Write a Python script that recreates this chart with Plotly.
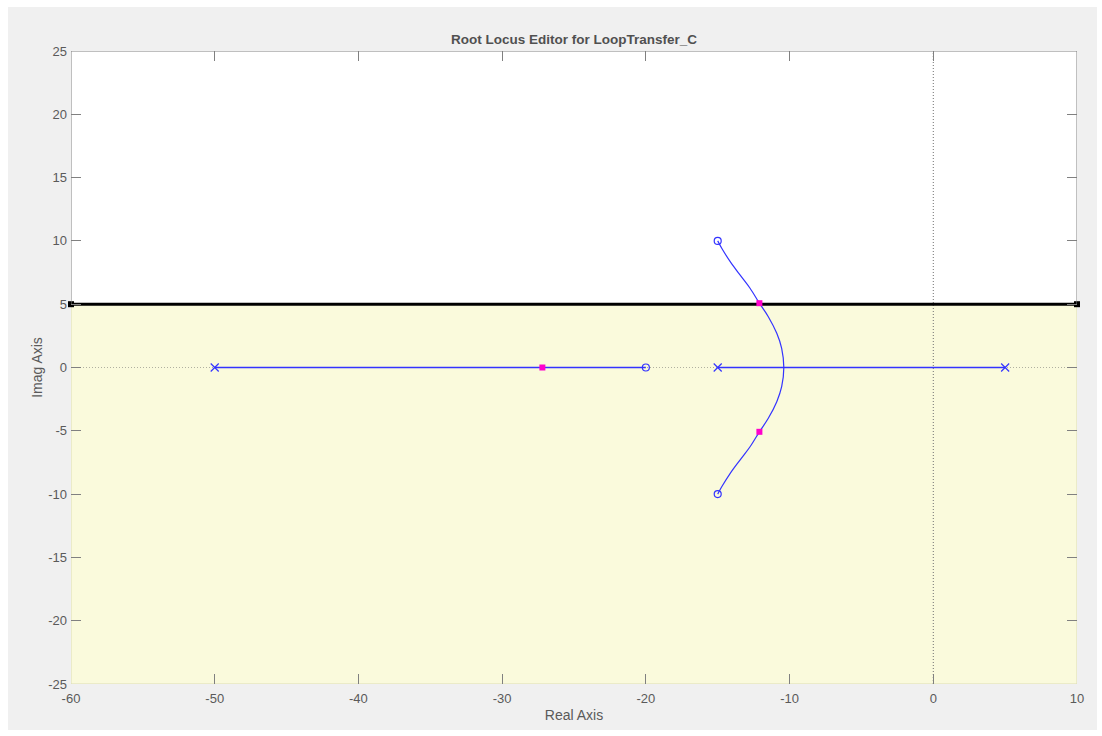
import plotly.graph_objects as go

# ---------------- data ----------------
pole_re = [-50, -15, 5]
pole_im = [0, 0, 0]
zero_re = [-20, -15, -15]
zero_im = [0, 10, -10]

real_seg1_re = [-50, -20]
real_seg2_re = [-15, 5]

branch_re = [-15.0, -14.72, -14.13, -13.45, -12.75, -12.10, -11.48, -10.89, -10.55, -10.40,
             -10.55, -10.89, -11.48, -12.10, -12.75, -13.45, -14.13, -14.72, -15.0]
branch_im = [10.0, 9.42, 8.36, 7.31, 6.26, 5.08, 4.01, 2.70, 1.52, 0.0,
             -1.52, -2.70, -4.01, -5.08, -6.26, -7.31, -8.36, -9.42, -10.0]

cl_re = [-27.2, -12.1, -12.1]
cl_im = [0, 5.08, -5.08]

limit_re = [-60, 10]
limit_im = [5, 5]

x_ticks = [-60, -50, -40, -30, -20, -10, 0, 10]
y_ticks = [-25, -20, -15, -10, -5, 0, 5, 10, 15, 20, 25]

XMIN, XMAX, YMIN, YMAX = -60, 10, -25, 25

BLUE = "#3333ff"
MAG = "#ff00cc"
GRAY = "#808080"
TXT = "#5a5a5a"
FONT = "Liberation Sans, Arial, sans-serif"

fig = go.Figure()

# dotted axes through origin
fig.add_trace(go.Scatter(x=[XMIN, XMAX], y=[0, 0], mode="lines",
                         line=dict(color="#b0b0a0", width=1, dash="1px,2px"),
                         hoverinfo="skip", showlegend=False))
fig.add_trace(go.Scatter(x=[0, 0], y=[YMIN, YMAX], mode="lines",
                         line=dict(color="#707070", width=1, dash="1px,2px"),
                         hoverinfo="skip", showlegend=False))

# root locus branches
for seg in (real_seg1_re, real_seg2_re):
    fig.add_trace(go.Scatter(x=seg, y=[0, 0], mode="lines",
                             line=dict(color=BLUE, width=1.5), showlegend=False))
fig.add_trace(go.Scatter(x=branch_re, y=branch_im, mode="lines",
                         line=dict(color=BLUE, width=1.2, shape="spline", smoothing=1.0),
                         showlegend=False))

# limit line
fig.add_trace(go.Scatter(x=limit_re, y=limit_im, mode="lines+markers",
                         line=dict(color="black", width=3),
                         marker=dict(symbol="square", size=6, color="black"),
                         cliponaxis=False, showlegend=False))

# poles and zeros
fig.add_trace(go.Scatter(x=pole_re, y=pole_im, mode="markers",
                         marker=dict(symbol="x-thin-open", size=8, color=BLUE,
                                     line=dict(color=BLUE, width=1.2)),
                         showlegend=False))
fig.add_trace(go.Scatter(x=zero_re, y=zero_im, mode="markers",
                         marker=dict(symbol="circle-open", size=7, color=BLUE,
                                     line=dict(color=BLUE, width=1.2)),
                         showlegend=False))

# closed-loop poles
fig.add_trace(go.Scatter(x=cl_re, y=cl_im, mode="markers",
                         marker=dict(symbol="square", size=6, color=MAG),
                         showlegend=False))

shapes = [
    # figure gray background
    dict(type="rect", xref="paper", yref="paper", x0=-0.0626, x1=1.0199, y0=-0.0727, y1=1.0695,
         fillcolor="#f0f0f0", line=dict(width=0), layer="below"),
    # white plot area
    dict(type="rect", xref="x", yref="y", x0=XMIN, x1=XMAX, y0=YMIN, y1=YMAX,
         fillcolor="white", line=dict(width=0), layer="below"),
    # yellow region
    dict(type="rect", xref="x", yref="y", x0=XMIN, x1=XMAX, y0=YMIN, y1=5,
         fillcolor="#fafadc", line=dict(color="#dcdcb4", width=1), layer="below"),
    # gray borders above yellow region
    dict(type="line", xref="x", yref="y", x0=XMIN, x1=XMAX, y0=YMAX, y1=YMAX,
         line=dict(color=GRAY, width=1)),
    dict(type="line", xref="x", yref="y", x0=XMIN, x1=XMIN, y0=5, y1=YMAX,
         line=dict(color=GRAY, width=1)),
    dict(type="line", xref="x", yref="y", x0=XMAX, x1=XMAX, y0=5, y1=YMAX,
         line=dict(color=GRAY, width=1)),
]

fig.update_layout(
    width=1102, height=736,
    margin=dict(l=71, r=25, t=51, b=52),
    paper_bgcolor="white",
    plot_bgcolor="rgba(0,0,0,0)",
    font=dict(family=FONT, size=13, color=TXT),
    title=dict(text="<b>Root Locus Editor for LoopTransfer_C</b>",
               x=0.5, xref="paper", xanchor="center",
               y=1, yref="paper", yanchor="bottom", pad=dict(b=7),
               font=dict(family=FONT, size=13.5, color="#505050")),
    shapes=shapes,
    showlegend=False,
)

fig.update_xaxes(range=[XMIN, XMAX], tickvals=x_ticks, ticktext=[str(v) for v in x_ticks],
                 ticks="inside", ticklen=10, tickcolor=GRAY, mirror="ticks",
                 showgrid=False, zeroline=False, showline=False,
                 ticklabelstandoff=5,
                 title=dict(text="Real Axis", standoff=5, font=dict(size=14, color=TXT)),
                 tickfont=dict(size=13, color=TXT))
fig.update_yaxes(range=[YMIN, YMAX], tickvals=y_ticks, ticktext=[str(v) for v in y_ticks],
                 ticks="inside", ticklen=10, tickcolor=GRAY, mirror="ticks",
                 showgrid=False, zeroline=False, showline=False,
                 ticklabelstandoff=3,
                 title=dict(text="Imag Axis", standoff=2, font=dict(size=14, color=TXT)),
                 tickfont=dict(size=13, color=TXT))

fig.write_html("out.html")
